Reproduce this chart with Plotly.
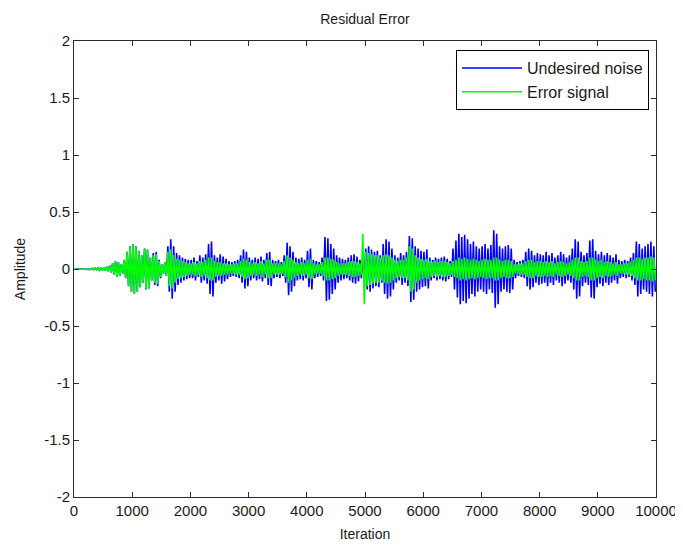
import plotly.graph_objects as go

# 50-iteration bins; in each bin the signal was read to swing up to +peak and down to -peak
bin_width = 50
n_bins = 200
bin_starts = [i * bin_width for i in range(n_bins)]

# Peak magnitudes of the undesired noise, per 50-iteration bin
noise_peaks = [
    0, 0, 0, 0, 0, 0.003, 0.005, 0.008, 0.01, 0.012,
    0.015, 0.02, 0.03, 0.05, 0.07, 0.06, 0.04, 0.08, 0.15, 0.2,
    0.22, 0.2, 0.16, 0.12, 0.18, 0.17, 0.1, 0.14, 0.15, 0.08,
    0.04, 0.06, 0.2, 0.26, 0.2, 0.14, 0.12, 0.1, 0.09, 0.08,
    0.08, 0.1, 0.07, 0.12, 0.1, 0.13, 0.22, 0.24, 0.12, 0.1,
    0.13, 0.11, 0.09, 0.07, 0.06, 0.07, 0.08, 0.12, 0.17, 0.15,
    0.1, 0.08, 0.1, 0.09, 0.11, 0.08, 0.14, 0.15, 0.08, 0.07,
    0.08, 0.06, 0.12, 0.23, 0.2, 0.15, 0.1, 0.09, 0.1, 0.08,
    0.16, 0.18, 0.08, 0.07, 0.06, 0.1, 0.28, 0.27, 0.22, 0.18,
    0.12, 0.1, 0.09, 0.08, 0.1, 0.12, 0.13, 0.11, 0.08, 0.1,
    0.18, 0.2, 0.17, 0.15, 0.16, 0.12, 0.22, 0.26, 0.24, 0.18,
    0.12, 0.1, 0.14, 0.12, 0.15, 0.29, 0.27, 0.2, 0.18, 0.16,
    0.15, 0.17, 0.1, 0.08, 0.1, 0.09, 0.1, 0.11, 0.09, 0.07,
    0.18, 0.25, 0.31, 0.28, 0.3, 0.26, 0.22, 0.24, 0.2, 0.18,
    0.2, 0.22, 0.18, 0.21, 0.34, 0.31, 0.2, 0.18, 0.2, 0.21,
    0.18, 0.08, 0.06, 0.07, 0.08, 0.15, 0.18, 0.16, 0.12, 0.14,
    0.13, 0.12, 0.15, 0.12, 0.14, 0.1, 0.12, 0.15, 0.13, 0.1,
    0.12, 0.18, 0.26, 0.24, 0.15, 0.12, 0.14, 0.25, 0.26, 0.16,
    0.13, 0.15, 0.12, 0.14, 0.12, 0.1, 0.13, 0.08, 0.07, 0.08,
    0.07, 0.1, 0.14, 0.24, 0.22, 0.18, 0.2, 0.22, 0.24, 0.2,
]

# Peak magnitudes of the error signal, per 50-iteration bin
error_peaks = [
    0, 0, 0, 0, 0, 0.003, 0.005, 0.008, 0.01, 0.012,
    0.015, 0.02, 0.03, 0.05, 0.07, 0.06, 0.04, 0.08, 0.15, 0.2,
    0.22, 0.2, 0.16, 0.12, 0.18, 0.17, 0.1, 0.12, 0.13, 0.07,
    0.04, 0.06, 0.15, 0.17, 0.12, 0.09, 0.08, 0.07, 0.06, 0.05,
    0.05, 0.06, 0.05, 0.07, 0.06, 0.08, 0.1, 0.1, 0.07, 0.06,
    0.06, 0.05, 0.05, 0.04, 0.04, 0.05, 0.05, 0.07, 0.09, 0.08,
    0.06, 0.05, 0.06, 0.05, 0.07, 0.05, 0.08, 0.08, 0.05, 0.05,
    0.05, 0.04, 0.07, 0.12, 0.1, 0.08, 0.06, 0.05, 0.06, 0.05,
    0.08, 0.09, 0.05, 0.04, 0.04, 0.06, 0.1, 0.1, 0.09, 0.08,
    0.06, 0.05, 0.05, 0.05, 0.06, 0.07, 0.07, 0.06, 0.05, 0.31,
    0.15, 0.14, 0.13, 0.12, 0.12, 0.1, 0.12, 0.13, 0.12, 0.1,
    0.08, 0.07, 0.08, 0.08, 0.1, 0.2, 0.18, 0.12, 0.1, 0.09,
    0.08, 0.09, 0.07, 0.06, 0.07, 0.06, 0.07, 0.07, 0.06, 0.05,
    0.07, 0.08, 0.1, 0.09, 0.1, 0.09, 0.08, 0.09, 0.08, 0.07,
    0.08, 0.09, 0.08, 0.08, 0.1, 0.1, 0.08, 0.07, 0.08, 0.08,
    0.07, 0.04, 0.04, 0.05, 0.05, 0.07, 0.08, 0.08, 0.06, 0.07,
    0.07, 0.06, 0.07, 0.06, 0.07, 0.05, 0.06, 0.07, 0.06, 0.05,
    0.06, 0.08, 0.1, 0.1, 0.07, 0.06, 0.07, 0.1, 0.1, 0.08,
    0.07, 0.08, 0.06, 0.07, 0.06, 0.05, 0.06, 0.04, 0.04, 0.05,
    0.05, 0.06, 0.08, 0.1, 0.1, 0.09, 0.1, 0.1, 0.11, 0.1,
]

x_tick_values = [0, 1000, 2000, 3000, 4000, 5000, 6000, 7000, 8000, 9000, 10000]
x_tick_labels = ["0", "1000", "2000", "3000", "4000", "5000", "6000", "7000", "8000", "9000", "10000"]
y_tick_values = [-2, -1.5, -1, -0.5, 0, 0.5, 1, 1.5, 2]
y_tick_labels = ["-2", "-1.5", "-1", "-0.5", "0", "0.5", "1", "1.5", "2"]


def swing(peaks):
    """Each bin: local maximum in its first half, local minimum in its second half."""
    xs, ys = [], []
    for start, p in zip(bin_starts, peaks):
        xs += [start + bin_width * 0.25, start + bin_width * 0.75]
        ys += [p, -p]
    return xs, ys


noise_x, noise_y = swing(noise_peaks)
error_x, error_y = swing(error_peaks)

FONT = "Liberation Sans, Arial, Helvetica, sans-serif"
TXT = "#1a1a1a"

fig = go.Figure()
fig.add_trace(go.Scatter(x=noise_x, y=noise_y, mode="lines",
                         name="Undesired noise", line=dict(color="#0000ff", width=1.6)))
fig.add_trace(go.Scatter(x=error_x, y=error_y, mode="lines",
                         name="Error signal", line=dict(color="#00ff00", width=1.6)))

axis_common = dict(showline=True, linecolor="#2b2b2b", linewidth=1, mirror="ticks",
                   ticks="inside", ticklen=5, tickcolor="#2b2b2b", showgrid=False,
                   zeroline=False, automargin=False,
                   tickfont=dict(family=FONT, size=15, color=TXT))

# The page body has an 8px default margin, so the figure is sized to fit the window
fig.update_layout(
    width=675, height=539,
    margin=dict(l=66, r=27, t=33, b=50, autoexpand=False),
    paper_bgcolor="white", plot_bgcolor="white",
    font=dict(family=FONT, size=14, color=TXT),
    title=dict(text="Residual Error", x=0.5, xanchor="center", xref="paper",
               y=0.98, yanchor="middle", font=dict(family=FONT, size=14, color=TXT)),
    xaxis=dict(range=[0, 10000], tickvals=x_tick_values, ticktext=x_tick_labels,
               title=dict(text="Iteration", standoff=11, font=dict(family=FONT, size=14)),
               **axis_common),
    yaxis=dict(range=[-2, 2], tickvals=y_tick_values, ticktext=y_tick_labels,
               title=dict(text="Amplitude", standoff=15, font=dict(family=FONT, size=14)),
               **axis_common),
    legend=dict(x=0.988, y=0.98, xanchor="right", yanchor="top",
                bgcolor="white", bordercolor="black", borderwidth=1,
                font=dict(family=FONT, size=16, color=TXT),
                tracegroupgap=0, itemwidth=60),
    showlegend=True,
)

fig.write_html("out.html")
